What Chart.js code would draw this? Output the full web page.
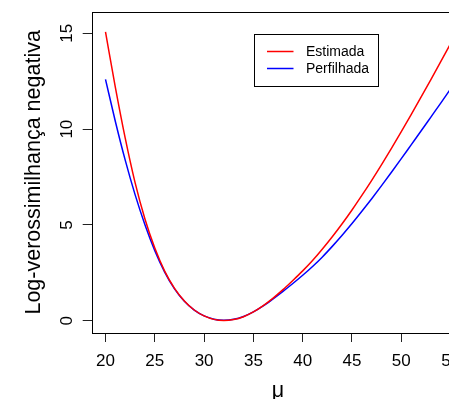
<!DOCTYPE html>
<html><head><meta charset="utf-8">
<script src="https://cdn.jsdelivr.net/npm/chart.js@4.4.0/dist/chart.umd.min.js"></script>
<style>
html,body{margin:0;padding:0;background:#fff;overflow:hidden;}
#wrap{position:relative;width:449px;height:399px;overflow:hidden;background:#fff;}
canvas{display:block;}
</style></head><body>
<div id="wrap"><canvas id="c" width="480" height="399" style="width:480px;height:399px"></canvas></div>
<script>
// ---- data ----
const mu = [20,21,22,23,24,25,26,27,28,29,30,31,32,33,34,35,36,37,38,39,40,41,42,43,44,45,46,47,48,49,50,51,52,53,54,55];
const estimada = [15.08,12.18,9.53,7.21,5.31,3.79,2.59,1.69,1.03,0.56,0.25,0.07,0.01,0.06,0.21,0.46,0.79,1.18,1.62,2.10,2.60,3.14,3.74,4.38,5.06,5.78,6.54,7.33,8.15,9.0,9.87,10.76,11.67,12.59,13.52,14.46];
const perfilhada = [12.6,10.4,8.38,6.58,5.01,3.66,2.54,1.66,1.01,0.55,0.25,0.08,0.02,0.07,0.22,0.46,0.77,1.14,1.53,1.94,2.37,2.83,3.33,3.88,4.46,5.07,5.71,6.37,7.05,7.75,8.46,9.18,9.90,10.63,11.36,12.10];
const xTicks = [20,25,30,35,40,45,50,55];
const yTicks = [0,5,10,15];
const seriesNames = ['Estimada','Perfilhada'];
const seriesColors = ['#FF0000','#0000FF'];
const xTitle = 'μ';
const yTitle = 'Log-verossimilhança negativa';

const FONT = '"Liberation Sans", Arial, Helvetica, sans-serif';

const boxPlugin = {
  id: 'box',
  afterDraw(chart) {
    const {ctx, chartArea: a} = chart;
    ctx.save();
    ctx.strokeStyle = '#000';
    ctx.lineWidth = 1;
    ctx.strokeRect(Math.round(a.left) + 0.5, Math.round(a.top) + 0.5,
      Math.round(a.right - a.left), Math.round(a.bottom - a.top));
    ctx.restore();
  }
};

const legendPlugin = {
  id: 'rlegend',
  afterDraw(chart) {
    const {ctx, chartArea: a} = chart;
    const x0 = Math.round(a.left + 162), y0 = Math.round(a.top + 22), w = 124, h = 52;
    ctx.save();
    ctx.fillStyle = '#fff';
    ctx.fillRect(x0, y0, w, h);
    ctx.strokeStyle = '#000';
    ctx.lineWidth = 1;
    ctx.strokeRect(x0 + 0.5, y0 + 0.5, w, h);
    ctx.font = '14px ' + FONT;
    ctx.textBaseline = 'middle';
    ctx.textAlign = 'left';
    chart.data.datasets.forEach((ds, i) => {
      const ly = y0 + 17.5 + i * 17;
      ctx.strokeStyle = ds.borderColor;
      ctx.lineWidth = 1.5;
      ctx.beginPath();
      ctx.moveTo(x0 + 13, ly);
      ctx.lineTo(x0 + 39.5, ly);
      ctx.stroke();
      ctx.fillStyle = '#000';
      ctx.fillText(ds.label, x0 + 52, ly + 0.5);
    });
    ctx.restore();
  }
};

new Chart(document.getElementById('c'), {
  type: 'line',
  data: {
    datasets: [
      { label: seriesNames[0], data: mu.map((m, i) => ({x: m, y: estimada[i]})),
        borderColor: seriesColors[0], borderWidth: 1.5, pointRadius: 0, fill: false,
        cubicInterpolationMode: 'monotone' },
      { label: seriesNames[1], data: mu.map((m, i) => ({x: m, y: perfilhada[i]})),
        borderColor: seriesColors[1], borderWidth: 1.5, pointRadius: 0, fill: false,
        cubicInterpolationMode: 'monotone' }
    ]
  },
  options: {
    responsive: false,
    animation: false,
    devicePixelRatio: 1,
    layout: { padding: { left: 0, right: 15.6, top: 11.7, bottom: 0 } },
    plugins: { legend: { display: false }, tooltip: { enabled: false } },
    scales: {
      x: {
        type: 'linear', min: 18.6, max: 56.4,
        afterBuildTicks: s => { s.ticks = xTicks.map(v => ({value: v})); },
        afterFit: s => { s.height = 66; s.paddingLeft = 0; s.paddingRight = 0; },
        grid: { display: true, drawOnChartArea: false, drawTicks: true, tickLength: 9, color: '#222', lineWidth: 1 },
        border: { display: false },
        ticks: { font: { family: FONT, size: 17 }, color: '#000', padding: 9, maxRotation: 0, autoSkip: false },
        title: { display: true, text: xTitle, font: { family: FONT, size: 21.5, lineHeight: 0.7 }, color: '#000', padding: { top: 0, bottom: 0.5 } }
      },
      y: {
        type: 'linear', min: -0.642, max: 16.13,
        afterBuildTicks: s => { s.ticks = yTicks.map(v => ({value: v})); },
        afterFit: s => { s.width = 91.7; s.paddingTop = 0; s.paddingBottom = 0; },
        grid: { display: true, drawOnChartArea: false, drawTicks: true, tickLength: 9, color: '#222', lineWidth: 1 },
        border: { display: false },
        ticks: { font: { family: FONT, size: 17 }, color: '#000', padding: 6, minRotation: 90, maxRotation: 90, crossAlign: 'center', autoSkip: false },
        title: { display: true, text: yTitle, font: { family: FONT, size: 21.5 }, color: '#000', padding: { top: 21.6, bottom: 0 } }
      }
    }
  },
  plugins: [boxPlugin, legendPlugin]
});
</script>
</body></html>
